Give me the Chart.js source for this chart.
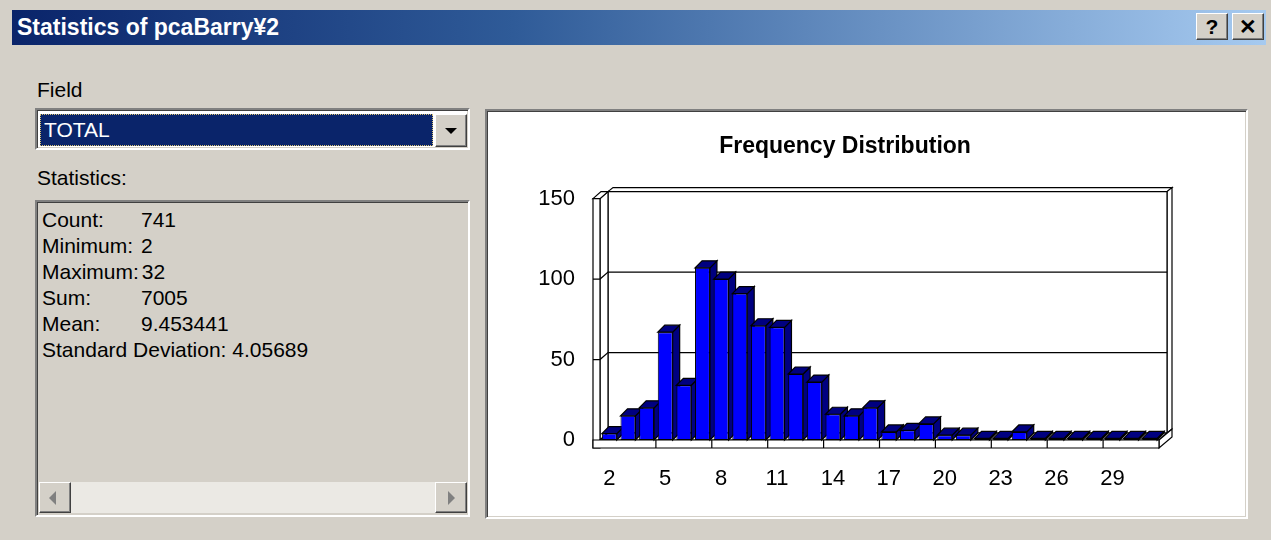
<!DOCTYPE html>
<html lang="en">
<head>
<meta charset="utf-8">
<script src="https://cdn.jsdelivr.net/npm/chart.js@4.4.1/dist/chart.umd.min.js"></script>
<style>
  body { margin:0; width:1271px; height:540px; overflow:hidden; position:relative;
         background:#d4d0c8; font-family:'Liberation Sans', Arial, sans-serif; font-size:21px; color:#000; }
  .abs { position:absolute; }
  .titlebar { left:12px; top:10px; width:1254px; height:35px;
              background:linear-gradient(to right, #0a246a 0%, #2f5b98 40%, #a6caf0 100%); }
  .titletext { left:5px; top:0; line-height:35px; color:#fff; font-weight:bold; font-size:23px; }
  .raised { background:#d4d0c8; box-sizing:border-box; border:1px solid; border-color:#fff #404040 #404040 #fff;
            box-shadow: inset -1px -1px #808080, inset 1px 1px #d4d0c8; }
  .sunken { box-sizing:border-box; border:2px solid; border-color:#808080 #fff #fff #808080;
            box-shadow: inset 1px 1px #404040, inset -1px -1px #d4d0c8; }
  .tbtn { width:32px; height:27px; top:13px; font-weight:bold; font-size:21px; text-align:center; line-height:25px; }
  .statline { left:5px; height:26px; line-height:26px; white-space:nowrap; }
  .statline span { display:inline-block; min-width:96px; margin-right:3px; }
</style>
</head>
<body>
<div class="abs titlebar"><div class="abs titletext">Statistics of pcaBarry¥2</div></div>
<div class="abs raised tbtn" style="left:1196px;">?</div>
<div class="abs raised tbtn" style="left:1232px;">✕</div>

<div class="abs" style="left:37px; top:78px;">Field</div>
<div class="abs sunken" style="left:35px; top:108px; width:435px; height:42px; background:#fff;"></div>
<div class="abs" style="left:40px; top:114px; width:393px; height:32px; background:#0a246a; box-sizing:border-box;
     outline:1px dotted #d8c070; outline-offset:-1px; color:#fff; line-height:32px; padding-left:4px;">TOTAL</div>
<div class="abs raised" style="left:435px; top:114px; width:32px; height:33px;">
  <div class="abs" style="left:9px; top:13px; width:0; height:0; border-left:6px solid transparent; border-right:6px solid transparent; border-top:6px solid #000;"></div>
</div>

<div class="abs" style="left:37px; top:166px;">Statistics:</div>
<div class="abs sunken" id="statbox" style="left:35px; top:200px; width:435px; height:317px;"></div>
<div class="abs" style="left:39px; top:482px; width:428px; height:31px; background:#ebe9e4;"></div>
<div class="abs raised" style="left:39px; top:482px; width:32px; height:31px;">
  <div class="abs" style="left:9px; top:8px; width:0; height:0; border-top:7px solid transparent; border-bottom:7px solid transparent; border-right:7px solid #808080;"></div>
</div>
<div class="abs raised" style="left:435px; top:482px; width:32px; height:31px;">
  <div class="abs" style="left:12px; top:8px; width:0; height:0; border-top:7px solid transparent; border-bottom:7px solid transparent; border-left:7px solid #808080;"></div>
</div>

<div class="abs sunken" style="left:485px; top:109px; width:763px; height:410px; background:#fff;"></div>
<canvas id="chart" class="abs" width="752" height="398" style="left:490px; top:115px;"></canvas>

<script>
// chart data
const categories = ['2','3','4','5','6','7','8','9','10','11','12','13','14','15','16',
                    '17','18','19','20','21','22','23','24','25','26','27','28','29','30','31'];
const counts = [4, 15, 20, 67, 34, 107, 100, 91, 71, 70, 41, 36, 16, 15, 20,
                5, 6, 10, 3, 3, 1, 1, 5, 1, 1, 1, 1, 1, 1, 1];
const xTickLabels = ['2','5','8','11','14','17','20','23','26','29'];
const yTickValues = [0, 50, 100, 150];

const statNames = ['Count:', 'Minimum:', 'Maximum:', 'Sum:', 'Mean:', 'Standard Deviation:'];
const statValues = ['741', '2', '32', '7005', '9.453441', '4.05689'];

// statistics text
var box = document.getElementById('statbox');
statNames.forEach(function(n, i){
    var d = document.createElement('div');
    d.className = 'abs statline';
    d.style.top = (5 + i * 26) + 'px';
    if (i === 5) d.textContent = n + ' ' + statValues[i];
    else d.innerHTML = '<span>' + n + '</span>' + statValues[i];
    box.appendChild(d);
});

// 3d box + bar depth
const box3d = {
    id: 'box3d',
    beforeDatasetsDraw(chart){
        const c = chart.ctx, a = chart.chartArea, ys = chart.scales.y, xs = chart.scales.x;
        const L = a.left, R = a.right, T = a.top, B = a.bottom;
        const dx = 8, dy = -7, w = 7, fl = 8;
        c.save();
        c.lineWidth = 1.2;
        c.strokeStyle = '#000';
        c.fillStyle = '#fff';
        function poly(pts){
            c.beginPath();
            c.moveTo(pts[0][0], pts[0][1]);
            for (let i = 1; i < pts.length; i++) c.lineTo(pts[i][0], pts[i][1]);
            c.closePath(); c.fill(); c.stroke();
        }
        // back wall with its thickness
        poly([[L+dx, T+dy], [L+dx+5, T+dy-4], [R+dx+5, T+dy-4], [R+dx, T+dy]]);
        poly([[R+dx, T+dy], [R+dx+5, T+dy-4], [R+dx+5, B+dy-4], [R+dx, B+dy]]);
        poly([[L+dx, T+dy], [R+dx, T+dy], [R+dx, B+dy], [L+dx, B+dy]]);
        // left wall
        poly([[L, T], [L+dx, T+dy], [L+dx, B+dy], [L, B]]);
        poly([[L-w, T], [L-w+dx, T+dy], [L+dx, T+dy], [L, T]]);
        poly([[L-w, T], [L, T], [L, B+fl], [L-w, B+fl]]);
        // floor
        poly([[L, B], [L+dx, B+dy], [R+dx, B+dy], [R, B]]);
        poly([[R, B], [R+dx+5, B+dy-4], [R+dx+5, B+dy+fl-4], [R, B+fl]]);
        poly([[L-w, B], [R, B], [R, B+fl], [L-w, B+fl]]);
        // grid lines
        c.beginPath();
        yTickValues.forEach(function(v){
            if (v === 0 || v === 150) return;
            const y = ys.getPixelForValue(v);
            c.moveTo(L-w, y); c.lineTo(L, y); c.lineTo(L+dx, y+dy); c.lineTo(R+dx, y+dy);
        });
        // x ticks on the floor front
        categories.forEach(function(cat, i){
            if (i === 0 || !xTickLabels.includes(cat)) return;
            const x = (xs.getPixelForValue(i) + xs.getPixelForValue(i-1)) / 2;
            c.moveTo(x, B); c.lineTo(x, B+fl);
        });
        c.stroke();
        // bar sides and tops
        const bx = 7, by = -7;
        c.fillStyle = '#000080';
        chart.getDatasetMeta(0).data.forEach(function(bar){
            const l = bar.x - bar.width/2, r = bar.x + bar.width/2, t = bar.y, b = bar.base;
            poly([[r, t], [r+bx, t+by], [r+bx, b+by], [r, b]]);
            poly([[l, t], [l+bx, t+by], [r+bx, t+by], [r, t]]);
        });
        c.restore();
    }
};

const ctx = document.getElementById('chart').getContext('2d');
Chart.defaults.font.family = "'Liberation Sans', Arial, sans-serif";
Chart.defaults.color = '#000';
const myChart = new Chart(ctx, {
    type: 'bar',
    data: {
        labels: categories,
        datasets: [{
            data: counts,
            backgroundColor: '#0000ff',
            borderColor: '#000',
            borderWidth: 1,
            borderSkipped: false,
            barPercentage: 0.8,
            categoryPercentage: 1
        }]
    },
    options: {
        responsive: false,
        animation: false,
        layout: { padding: { left: 41, right: 83, top: 0, bottom: 0 } },
        plugins: {
            legend: { display: false },
            tooltip: { enabled: false },
            title: {
                display: true,
                text: 'Frequency Distribution',
                color: '#000',
                font: { size: 23, weight: 'bold' },
                padding: { top: 18, bottom: 38 }
            }
        },
        scales: {
            x: {
                grid: { display: false },
                border: { display: false },
                afterFit: function(s){ s.height = 73; },
                ticks: {
                    autoSkip: false,
                    maxRotation: 0,
                    padding: 18,
                    font: { size: 22 },
                    callback: function(val){
                        const l = this.getLabelForValue(val);
                        return xTickLabels.includes(l) ? l : '';
                    }
                }
            },
            y: {
                min: 0,
                max: 150,
                grid: { display: false },
                border: { display: false },
                afterFit: function(s){ s.width = 69; },
                afterBuildTicks: function(s){ s.ticks = yTickValues.map(v => ({ value: v })); },
                ticks: { padding: 17, font: { size: 22 } }
            }
        }
    },
    plugins: [box3d]
});
</script>
</body>
</html>
